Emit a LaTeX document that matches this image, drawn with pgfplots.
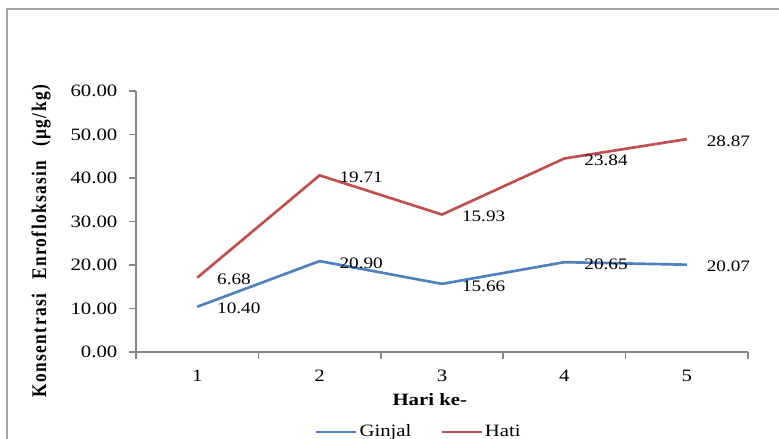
\documentclass[border=0pt,12pt]{standalone}
\usepackage{fontspec}
\setmainfont{Liberation Serif}[FakeStretch=1.2]
\newfontfamily\labelfont{Liberation Serif}[LetterSpace=8]
\usepackage{graphicx}
\usepackage{pgfplots}
\pgfplotsset{compat=1.18}

\definecolor{ginjal}{RGB}{79,129,189}
\definecolor{hati}{RGB}{192,80,77}
\definecolor{axisgray}{RGB}{134,134,134}
\definecolor{framegray}{RGB}{166,166,166}

\begin{document}
\begin{tikzpicture}[x=1pt,y=1pt]
  \useasboundingbox (0,0) rectangle (584.25,329.25);
  % chart frame (top and left edges)
  \draw[framegray, line width=1.5pt] (5.25,-5) -- (5.25,322.5) -- (595,322.5);
  \begin{axis}[
    at={(102pt,65.25pt)}, anchor=south west,
    scale only axis, width=459pt, height=195.75pt,
    xmin=0.5, xmax=5.5, ymin=0, ymax=60,
    stack plots=y,
    clip=false,
    axis lines*=left,
    axis line style={axisgray, line width=1.1pt, -},
    tick align=outside,
    major tick length=5.25pt,
    tick style={axisgray, line width=1.1pt},
    xtick={0.5,1.5,...,5.5},
    x tick label as interval,
    xticklabels={1,2,3,4,5},
    ytick={0,10,...,60},
    /pgf/number format/assume math mode=true,
    yticklabel style={/pgf/number format/fixed, /pgf/number format/fixed zerofill,
      /pgf/number format/precision=2, xshift=-4.5pt},
    xticklabel style={yshift=-4pt},
    ticklabel style={font=\fontsize{13}{15}\selectfont, text=black},
    xlabel={\bfseries Hari ke-},
    xlabel style={at={(axis description cs:0.480,-0.184)}, anchor=center,
      font=\fontsize{13}{15}\selectfont},
    ylabel={\scalebox{1}[1.2]{\labelfont\bfseries\fontsize{13}{15}\selectfont
      Konsentrasi\hspace{0.8em}Enrofloksasin\hspace{0.8em}(µg/kg)}},
    ylabel style={at={(axis description cs:-0.155,0.425)}, anchor=center},
    point meta=explicit,
    nodes near coords={\pgfmathprintnumber[fixed,fixed zerofill,precision=2]{\pgfplotspointmeta}},
    nodes near coords style={anchor=west, xshift=10pt, yshift=-1.5pt, text=black,
      font=\fontsize{12}{14}\selectfont},
    legend columns=2,
    legend style={at={(axis description cs:0.462,-0.3065)}, anchor=center,
      draw=none, fill=none, font=\fontsize{13}{15}\selectfont,
      nodes={inner sep=1.5pt},
      /tikz/every even column/.append style={column sep=20pt}},
    legend image code/.code={\draw[#1] (0pt,0pt) -- (30pt,0pt);},
  ]
    % Ginjal (kidney)
    \addplot[ginjal, line width=2pt] coordinates {
      (1,10.40) [10.40]
      (2,20.90) [20.90]
      (3,15.66) [15.66]
      (4,20.65) [20.65]
      (5,20.07) [20.07]
    };
    \addlegendentry{Ginjal}
    % Hati (liver), stacked on top of Ginjal
    \addplot[hati, line width=2pt] coordinates {
      (1,6.68) [6.68]
      (2,19.71) [19.71]
      (3,15.93) [15.93]
      (4,23.84) [23.84]
      (5,28.87) [28.87]
    };
    \addlegendentry{Hati}
  \end{axis}
\end{tikzpicture}
\end{document}
